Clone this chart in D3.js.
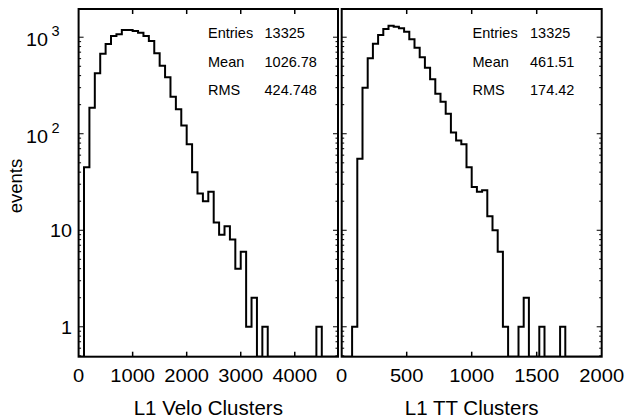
<!DOCTYPE html>
<html><head><meta charset="utf-8">
<script src="https://cdn.jsdelivr.net/npm/d3@7"></script>
<style>
body{margin:0;background:#fff}
text{font-family:"Liberation Sans",Arial,Helvetica,sans-serif;fill:#000}
</style>
</head><body>
<svg id="c" width="642" height="418"></svg>
<script>
// ---- data ----
const veloCounts = [0,45,186,423,675,851,1029,1072,1188,1188,
  1159,1114,1029,914,681,507,384,242,179,122,
  78,40,24,20,25,12,9,11,8,4,
  6,1,2,0,1,0,0,0,0,0,
  0,0,0,0,1,0,0,0];
const ttCounts = [0,0,1,55,300,604,857,1054,1217,1316,
  1284,1236,1141,951,778,619,483,366,260,215,
  161,103,85,78,45,28,25,26,14,10,
  6,1,0,0,1,2,0,0,1,0,
  0,0,1,0,0,0,0,0,0,0];
const veloRange = [0,4800];
const ttRange = [0,2000];
const veloTicks = [0,1000,2000,3000,4000];
const ttTicks = [0,500,1000,1500,2000];
const yRange = [0.49,1960];
const yMajor = [1,10,100,1000];
const yLabelBase = ["1","10","10","10"];
const yLabelExp = ["","","2","3"];
const statLabels = ["Entries","Mean","RMS"];
const veloStats = ["13325","1026.78","424.748"];
const ttStats = ["13325","461.51","174.42"];
const xTitles = ["L1 Velo Clusters","L1 TT Clusters"];
const yTitle = "events";

// ---- layout ----
const svg = d3.select("#c");
const yTop = 9, yBot = 356.7;
const y = d3.scaleLog().domain(yRange).range([yBot, yTop]);
const yMinor = [];
[0.1,1,10,100,1000].forEach(d=>{for(let m=2;m<=9;m++){const v=d*m; if(v>yRange[0]&&v<yRange[1]&&!yMajor.includes(v)) yMinor.push(v);}});

function label(parent, x, yy, txt, size, anchor, sx){
  return parent.append("text")
    .attr("transform",`translate(${x},${yy}) scale(${sx||1},1)`)
    .attr("text-anchor",anchor||"start").attr("font-size",size).text(txt);
}

const panels = [
  {counts:veloCounts, range:veloRange, ticks:veloTicks, stats:veloStats, title:xTitles[0], x0:78.6, x1:338, sx:208, vx:264.5},
  {counts:ttCounts, range:ttRange, ticks:ttTicks, stats:ttStats, title:xTitles[1], x0:341.7, x1:601.7, sx:472.5, vx:530}
];

panels.forEach((p,pi)=>{
  const x = d3.scaleLinear().domain(p.range).range([p.x0,p.x1]);
  const g = svg.append("g");
  const clipId = "clip"+pi;
  svg.append("clipPath").attr("id",clipId).append("rect")
    .attr("x",p.x0).attr("y",yTop).attr("width",p.x1-p.x0).attr("height",yBot-yTop);
  const n = p.counts.length, w = (p.range[1]-p.range[0])/n;
  const pts = [[x(p.range[0]), yBot]];
  p.counts.forEach((c,i)=>{
    const yy = c>0 ? y(c) : yBot;
    pts.push([x(p.range[0]+i*w), yy]);
    pts.push([x(p.range[0]+(i+1)*w), yy]);
  });
  pts.push([x(p.range[1]), yBot]);
  g.append("path").attr("d", d3.line()(pts)).attr("fill","none")
    .attr("stroke","#000").attr("stroke-width",2).attr("clip-path",`url(#${clipId})`);

  // frame
  g.append("rect").attr("x",p.x0).attr("y",yTop).attr("width",p.x1-p.x0).attr("height",yBot-yTop)
    .attr("fill","none").attr("stroke","#000").attr("stroke-width",2);

  // x ticks
  p.ticks.forEach(t=>{
    const xx = x(t);
    if (xx>p.x0+1 && xx<p.x1-1){
      g.append("line").attr("x1",xx).attr("x2",xx).attr("y1",yBot).attr("y2",yBot-5).attr("stroke","#000").attr("stroke-width",1.5);
      g.append("line").attr("x1",xx).attr("x2",xx).attr("y1",yTop).attr("y2",yTop+5).attr("stroke","#000").attr("stroke-width",1.5);
    }
    label(g, xx, 381.5, d3.format("d")(t), 19, "middle", 1.06);
  });
  // y ticks both sides
  const yt = (v,len)=>{
    g.append("line").attr("x1",p.x0).attr("x2",p.x0+len).attr("y1",y(v)).attr("y2",y(v)).attr("stroke","#000").attr("stroke-width",1);
    g.append("line").attr("x1",p.x1).attr("x2",p.x1-len).attr("y1",y(v)).attr("y2",y(v)).attr("stroke","#000").attr("stroke-width",1);
  };
  yMajor.forEach(v=>yt(v,5));
  yMinor.forEach(v=>yt(v,2.5));

  // stats
  statLabels.forEach((s,i)=>{
    const by = 38 + i*28.7;
    label(g, p.sx, by, s, 14.5);
    label(g, p.vx, by, p.stats[i], 14.5);
  });
  // x title
  label(g, (p.x0+p.x1)/2, 415, p.title, 20.5, "middle");
});

// y labels (left panel only)
yMajor.forEach((v,i)=>{
  const yy = y(v);
  if (yLabelExp[i]===""){
    label(svg, 72, yy+7, yLabelBase[i], 19, "end", 1.04);
  } else {
    label(svg, 48, yy+9, yLabelBase[i], 19, "end", 1.04);
    label(svg, 51.5, yy-1, yLabelExp[i], 14.5, "start");
  }
});
svg.append("text").attr("transform","translate(22,186) rotate(-90)").attr("text-anchor","middle")
  .attr("font-size",18.5).text(yTitle);
</script>
</body></html>
